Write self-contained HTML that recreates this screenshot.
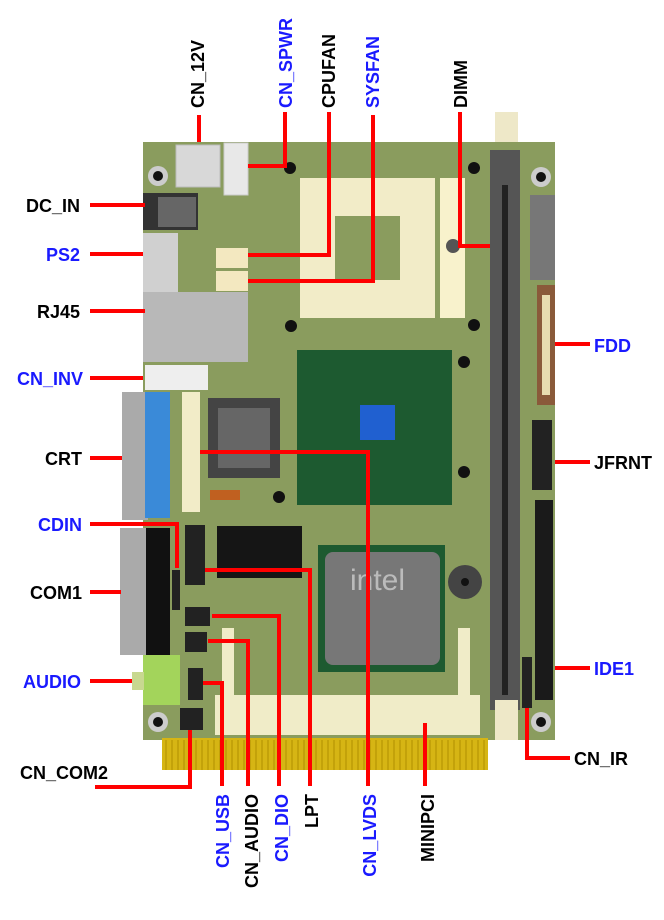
<!DOCTYPE html>
<html><head><meta charset="utf-8"><style>
html,body{margin:0;padding:0;background:#fff;}
svg{display:block;}
text{font-family:"Liberation Sans",Arial,sans-serif;font-weight:bold;font-size:18px;}
.b{fill:#000}.u{fill:#1a1aff}
.r{stroke:#f00;stroke-width:4;fill:none}
</style></head><body>
<svg width="664" height="920" viewBox="0 0 664 920" xmlns="http://www.w3.org/2000/svg">
<!-- board -->
<rect x="143" y="142" width="412" height="598" fill="#8a9c5e"/>
<!-- gold fingers -->
<rect x="162" y="738" width="326" height="32" fill="#d6b514"/>
<g stroke="#b08f00" stroke-width="1">
<path d="M166 740V770M172 740V770M178 740V770M184 740V770M190 740V770M196 740V770M202 740V770M208 740V770M214 740V770M220 740V770M226 740V770M232 740V770M238 740V770M244 740V770M250 740V770M256 740V770M262 740V770M268 740V770M274 740V770M280 740V770M286 740V770M292 740V770M298 740V770M304 740V770M310 740V770M316 740V770M322 740V770M328 740V770M334 740V770M340 740V770M346 740V770M352 740V770M358 740V770M364 740V770M370 740V770M376 740V770M382 740V770M388 740V770M394 740V770M400 740V770M406 740V770M412 740V770M418 740V770M424 740V770M430 740V770M436 740V770M442 740V770M448 740V770M454 740V770M460 740V770M466 740V770M472 740V770M478 740V770M484 740V770"/>
</g>
<!-- top-left components -->
<rect x="176" y="145" width="44" height="42" fill="#d8d8d8" stroke="#bbb"/>
<rect x="224" y="143" width="24" height="52" fill="#e8e8e8" stroke="#ccc"/>
<circle cx="158" cy="176" r="10" fill="#ccc"/><circle cx="158" cy="176" r="5" fill="#111"/>
<rect x="143" y="193" width="55" height="37" fill="#333"/><rect x="158" y="197" width="38" height="30" fill="#666"/>
<rect x="143" y="233" width="35" height="59" fill="#d0d0d0"/>
<rect x="143" y="292" width="105" height="70" fill="#b8b8b8"/>
<rect x="145" y="365" width="63" height="25" fill="#eee"/>
<!-- fan headers -->
<rect x="216" y="248" width="32" height="20" fill="#f3e8c0"/>
<rect x="216" y="271" width="32" height="20" fill="#f3e8c0"/>
<!-- CPU socket -->
<rect x="300" y="178" width="135" height="140" fill="#f2ecc8"/>
<rect x="335" y="216" width="65" height="64" fill="#8a9c5e"/>
<rect x="440" y="178" width="25" height="140" fill="#f8f2cc"/>
<circle cx="453" cy="246" r="7" fill="#555"/>
<!-- holes -->
<circle cx="290" cy="168" r="6" fill="#111"/><circle cx="474" cy="168" r="6" fill="#111"/>
<circle cx="291" cy="326" r="6" fill="#111"/><circle cx="474" cy="325" r="6" fill="#111"/>
<circle cx="464" cy="362" r="6" fill="#111"/><circle cx="464" cy="472" r="6" fill="#111"/>
<circle cx="279" cy="497" r="6" fill="#111"/>
<circle cx="541" cy="177" r="10" fill="#ccc"/><circle cx="541" cy="177" r="5" fill="#111"/>
<circle cx="158" cy="722" r="10" fill="#ccc"/><circle cx="158" cy="722" r="5" fill="#111"/>
<circle cx="541" cy="722" r="10" fill="#ccc"/><circle cx="541" cy="722" r="5" fill="#111"/>
<!-- DIMM -->
<rect x="495" y="112" width="23" height="30" fill="#eee8c8"/>
<rect x="490" y="150" width="30" height="560" fill="#555"/>
<rect x="502" y="185" width="6" height="510" fill="#222"/>
<rect x="495" y="700" width="23" height="40" fill="#eee8c8"/>
<!-- right side -->
<rect x="530" y="195" width="25" height="85" fill="#777"/>
<rect x="537" y="285" width="18" height="120" fill="#8a5a3a"/><rect x="542" y="295" width="8" height="100" fill="#e8dcb0"/>
<rect x="532" y="420" width="20" height="70" fill="#222"/>
<rect x="535" y="500" width="18" height="200" fill="#1a1a1a"/>
<rect x="522" y="657" width="10" height="51" fill="#222"/>
<!-- northbridge -->
<rect x="297" y="350" width="155" height="155" fill="#1d5a30"/>
<rect x="360" y="405" width="35" height="35" fill="#2060d0"/>
<!-- CRT / LPT -->
<rect x="122" y="392" width="26" height="128" fill="#aaa"/>
<rect x="145" y="392" width="25" height="126" fill="#3a8ad8"/>
<rect x="182" y="392" width="18" height="120" fill="#f2ecc8"/>
<rect x="208" y="398" width="72" height="80" fill="#444"/><rect x="218" y="408" width="52" height="60" fill="#666"/>
<rect x="210" y="490" width="30" height="10" fill="#c06020"/>
<!-- winbond / headers -->
<rect x="217" y="526" width="85" height="52" fill="#151515"/>
<rect x="185" y="525" width="20" height="60" fill="#222"/>
<rect x="120" y="528" width="30" height="127" fill="#aaa"/><rect x="146" y="528" width="24" height="127" fill="#111"/>
<rect x="172" y="570" width="8" height="40" fill="#222"/>
<rect x="185" y="607" width="25" height="19" fill="#222"/>
<rect x="185" y="632" width="22" height="20" fill="#222"/>
<rect x="188" y="668" width="15" height="32" fill="#222"/>
<rect x="180" y="708" width="23" height="22" fill="#222"/>
<rect x="143" y="655" width="37" height="50" fill="#a3d45b"/><rect x="132" y="672" width="12" height="18" fill="#c8d890"/>
<!-- southbridge -->
<rect x="318" y="545" width="127" height="127" fill="#1d5a30"/>
<rect x="325" y="552" width="115" height="113" rx="8" fill="#777"/>
<text x="350" y="590" style="fill:#bbb;font-size:30px;font-weight:normal">intel</text>
<circle cx="465" cy="582" r="17" fill="#444"/><circle cx="465" cy="582" r="4" fill="#111"/>
<!-- minipci -->
<rect x="215" y="695" width="265" height="40" fill="#f0ecc8"/>
<rect x="222" y="628" width="12" height="70" fill="#f0ecc8"/>
<rect x="458" y="628" width="12" height="70" fill="#f0ecc8"/>

<!-- red leader lines -->
<path class="r" d="M199 115V142"/>
<path class="r" d="M285 112V166H248"/>
<path class="r" d="M329 112V255H248"/>
<path class="r" d="M373 115V281H248"/>
<path class="r" d="M460 112V246H490"/>
<path class="r" d="M90 205H145"/>
<path class="r" d="M90 254H143"/>
<path class="r" d="M90 311H145"/>
<path class="r" d="M90 378H143"/>
<path class="r" d="M90 458H122"/>
<path class="r" d="M90 524H177V568"/>
<path class="r" d="M90 592H121"/>
<path class="r" d="M90 681H132"/>
<path class="r" d="M95 787H190V730"/>
<path class="r" d="M555 344H590"/>
<path class="r" d="M555 462H590"/>
<path class="r" d="M555 668H590"/>
<path class="r" d="M527 708V758H570"/>
<path class="r" d="M200 452H368V786"/>
<path class="r" d="M205 570H310V786"/>
<path class="r" d="M212 616H279V786"/>
<path class="r" d="M208 641H248V786"/>
<path class="r" d="M203 683H222V786"/>
<path class="r" d="M425 723V786"/>

<!-- left labels -->
<text class="b" x="26" y="212">DC_IN</text>
<text class="u" x="46" y="261">PS2</text>
<text class="b" x="37" y="318">RJ45</text>
<text class="u" x="17" y="385">CN_INV</text>
<text class="b" x="45" y="465">CRT</text>
<text class="u" x="38" y="531">CDIN</text>
<text class="b" x="30" y="599">COM1</text>
<text class="u" x="23" y="688">AUDIO</text>
<text class="b" x="20" y="779">CN_COM2</text>
<!-- right labels -->
<text class="u" x="594" y="352">FDD</text>
<text class="b" x="594" y="469">JFRNT</text>
<text class="u" x="594" y="675">IDE1</text>
<text class="b" x="574" y="765">CN_IR</text>
<!-- top vertical labels -->
<text class="b" transform="translate(204,108) rotate(-90)">CN_12V</text>
<text class="u" transform="translate(292,108) rotate(-90)">CN_SPWR</text>
<text class="b" transform="translate(335,108) rotate(-90)">CPUFAN</text>
<text class="u" transform="translate(379,108) rotate(-90)">SYSFAN</text>
<text class="b" transform="translate(467,108) rotate(-90)">DIMM</text>
<!-- bottom vertical labels -->
<text class="u" text-anchor="end" transform="translate(229,794) rotate(-90)">CN_USB</text>
<text class="b" text-anchor="end" transform="translate(258,794) rotate(-90)">CN_AUDIO</text>
<text class="u" text-anchor="end" transform="translate(288,794) rotate(-90)">CN_DIO</text>
<text class="b" text-anchor="end" transform="translate(318,794) rotate(-90)">LPT</text>
<text class="u" text-anchor="end" transform="translate(376,794) rotate(-90)">CN_LVDS</text>
<text class="b" text-anchor="end" transform="translate(434,794) rotate(-90)">MINIPCI</text>
</svg>
</body></html>
